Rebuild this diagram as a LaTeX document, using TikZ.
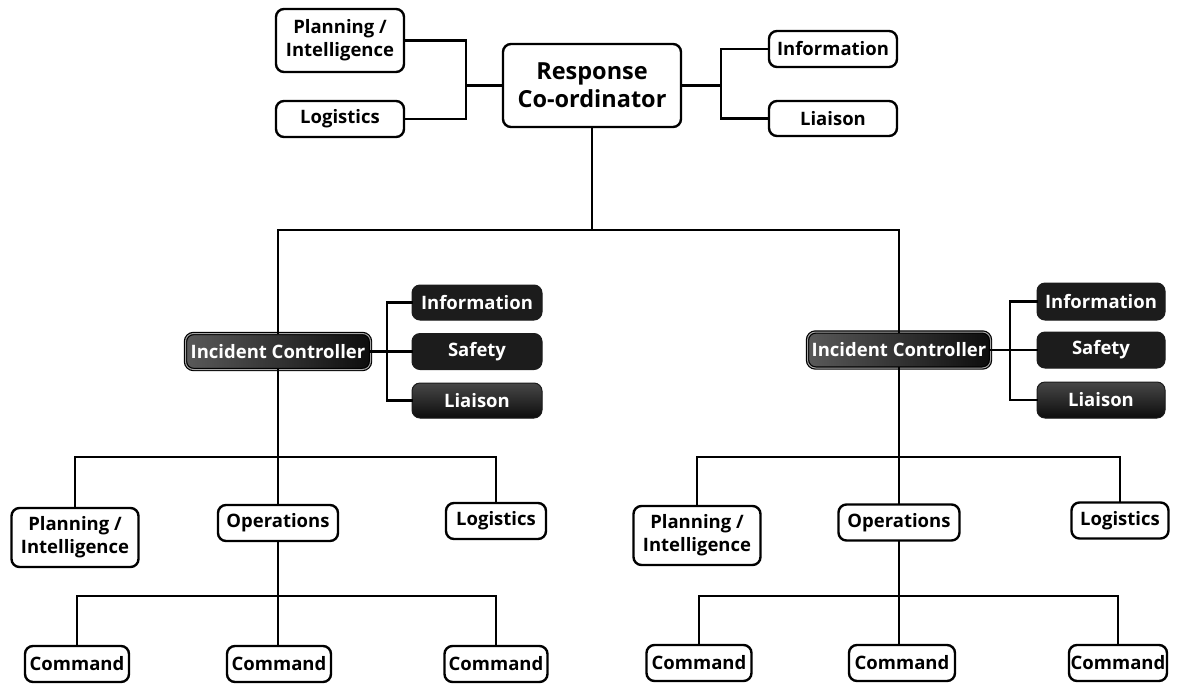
\documentclass[tikz,border=0pt]{standalone}
\usepackage{fontspec}
\setmainfont{Open Sans}
\definecolor{boxblack}{HTML}{1C1C1C}
\begin{document}
\begin{tikzpicture}[x=1pt,y=-1pt,
  lbl/.style={font=\bfseries\fontsize{18.5}{23}\selectfont},
  wbox/.style={lbl, draw=black, line width=2.4pt, rounded corners=8pt, fill=white,
    align=center, inner sep=0pt},
  bbox/.style={lbl, draw=boxblack, line width=1pt, rounded corners=8pt, fill=boxblack,
    text=white, align=center, inner sep=0pt},
  icbox/.style={lbl, draw=black, double=black!35, double distance=1pt, line width=1.2pt,
    rounded corners=8pt, left color=black!65, right color=black!95, text=white,
    align=center, inner sep=0pt},
  sz/.style n args={2}{minimum width=#1pt, minimum height=#2pt},
  link/.style={line width=2.8pt, line cap=rect}]
\useasboundingbox (0,0) rectangle (1180,683);

% ---------- response co-ordinator and its staff ----------
\node[wbox, sz={128}{63}] (tpi)   at (340,40.5) {Planning /\\Intelligence};
\node[wbox, sz={128}{36}] (tlog)  at (340,119)  {Logistics};
\node[wbox, sz={178}{83}, font=\bfseries\fontsize{23.5}{28}\selectfont] (rc) at (592,85.5) {Response\\Co-ordinator};
\node[wbox, sz={128}{36}] (tinfo) at (833,49)   {Information};
\node[wbox, sz={128}{35}] (tlia)  at (833,118.5){Liaison};

\coordinate (jl) at (466,85.5);
\coordinate (jr) at (721,85.5);
\draw[link] (tpi.east) -| (jl);
\draw[link] (tlog.east) -| (jl);
\draw[link] (jl) -- (rc.west);
\draw[link] (rc.east) -- (jr);
\draw[link] (tinfo.west) -| (jr);
\draw[link] (tlia.west) -| (jr);

% ---------- incident controllers ----------
\node[icbox, sz={185}{36}] (lic) at (278,351.5) {Incident Controller};
\node[icbox, sz={183}{36}] (ric) at (899,350)   {Incident Controller};

\coordinate (bar) at (592,230);
\draw[link] (rc.south) -- (bar) -| (lic.north);
\draw[link] (bar) -| (ric.north);

% left command staff
\node[bbox, sz={130}{35}] (linfo) at (477,302.5) {Information};
\node[bbox, sz={130}{36}] (lsaf)  at (477,351.5) {Safety};
\node[bbox, sz={130}{35}, top color=black!72, bottom color=black!95] (llia)  at (477,400.5) {Liaison};
\coordinate (lj) at (387,351.5);
\draw[link] (lic.east) -- (lsaf.west);
\draw[link] (linfo.west) -| (lj);
\draw[link] (llia.west) -| (lj);

% right command staff
\node[bbox, sz={128}{37}] (rinfo) at (1101,301.5) {Information};
\node[bbox, sz={128}{36}] (rsaf)  at (1101,350)   {Safety};
\node[bbox, sz={128}{36}, top color=black!72, bottom color=black!95] (rlia)  at (1101,400) {Liaison};
\coordinate (rj) at (1010,350);
\draw[link] (ric.east) -- (rsaf.west);
\draw[link] (rinfo.west) -| (rj);
\draw[link] (rlia.west) -| (rj);

% ---------- left sections ----------
\node[wbox, sz={127}{59}] (lpi)  at (75,537.5) {Planning /\\Intelligence};
\node[wbox, sz={120}{36}] (lops) at (278,523)  {Operations};
\node[wbox, sz={100}{36}] (llog) at (496,521)  {Logistics};
\coordinate (lb1) at (278,457);
\draw[link] (lic.south) -- (lb1) -| (lpi.north);
\draw[link] (lb1) -| (llog.north);
\draw[link] (lb1) -- (lops.north);

\node[wbox, sz={104}{36}] (lc1) at (77,664)  {Command};
\node[wbox, sz={104}{36}] (lc2) at (279,664) {Command};
\node[wbox, sz={103}{36}] (lc3) at (496,664) {Command};
\coordinate (lb2) at (278,596);
\draw[link] (lops.south) -- (lb2) -| (lc1.north);
\draw[link] (lb2) -| (lc3.north);
\draw[link] (lb2) -- (lb2 |- lc2.north);

% ---------- right sections ----------
\node[wbox, sz={127}{59}] (rpi)  at (697,535.5) {Planning /\\Intelligence};
\node[wbox, sz={121}{36}] (rops) at (899,522.5) {Operations};
\node[wbox, sz={97}{36}]  (rlog) at (1120,520.5){Logistics};
\coordinate (rb1) at (899,457);
\draw[link] (ric.south) -- (rb1) -| (rpi.north);
\draw[link] (rb1) -| (rlog.north);
\draw[link] (rb1) -- (rops.north);

\node[wbox, sz={105}{36}] (rc1) at (699,663)  {Command};
\node[wbox, sz={106}{36}] (rc2) at (902,663)  {Command};
\node[wbox, sz={98}{36}]  (rc3) at (1118,663) {Command};
\coordinate (rb2) at (899,596);
\draw[link] (rops.south) -- (rb2) -| (rc1.north);
\draw[link] (rb2) -| (rc3.north);
\draw[link] (rb2) -- (rb2 |- rc2.north);
\end{tikzpicture}
\end{document}
